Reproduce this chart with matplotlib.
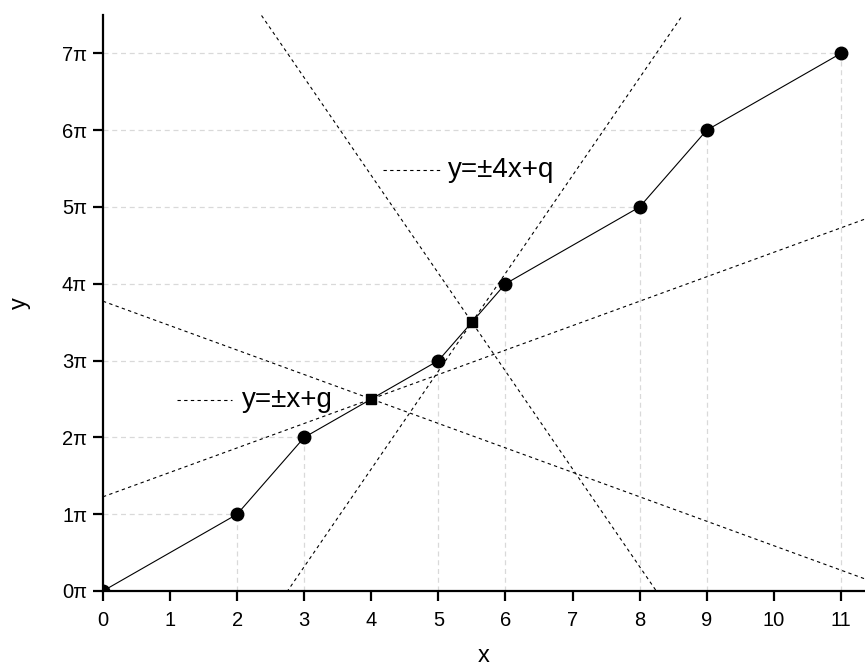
import numpy as np
import matplotlib
matplotlib.use("Agg")
import matplotlib.pyplot as plt

plt.rcParams['font.family'] = ['Liberation Sans', 'DejaVu Sans']

PI = np.pi
# data (y in multiples of pi)
x_pts = [0, 2, 3, 4, 5, 5.5, 6, 8, 9, 11]
y_pts_pi = [0, 1, 2, 2.5, 3, 3.5, 4, 5, 6, 7]
circle_x = [0, 2, 3, 5, 6, 8, 9, 11]
circle_y_pi = [0, 1, 2, 3, 4, 5, 6, 7]
square_x = [4, 5.5]
square_y_pi = [2.5, 3.5]
slopes_a = [1, -1]     # lines through (4, 2.5pi)
slopes_b = [4, -4]     # lines through (5.5, 3.5pi)
yticks_pi = [0, 1, 2, 3, 4, 5, 6, 7]
xticks = list(range(12))

fig = plt.figure(figsize=(8.65, 6.68), dpi=100)
ax = fig.add_axes([103/865, 77/668, 762/865, 576/668])
xmax = 11.36
ymax = 7.5 * PI
ax.set_xlim(0, xmax)
ax.set_ylim(0, ymax)

grid_kw = dict(color='#d9d9d9', lw=0.9, ls=(0, (4, 3)), zorder=1)
for cx, cy in zip(circle_x, circle_y_pi):
    ax.plot([0, cx], [cy*PI, cy*PI], **grid_kw)
    ax.plot([cx, cx], [0, cy*PI], **grid_kw)

xs = np.array([0, xmax])
dash_kw = dict(color='black', lw=0.8, ls=(0, (3, 3)), zorder=2)
for s in slopes_a:
    x0, y0 = square_x[0], square_y_pi[0]*PI
    ax.plot(xs, y0 + s*(xs - x0), **dash_kw)
for s in slopes_b:
    x0, y0 = square_x[1], square_y_pi[1]*PI
    ax.plot(xs, y0 + s*(xs - x0), **dash_kw)

ax.plot(x_pts, [v*PI for v in y_pts_pi], color='black', lw=0.8, zorder=3)
ax.plot(circle_x, [v*PI for v in circle_y_pi], 'o', color='black', ms=9, zorder=4)
ax.plot(square_x, [v*PI for v in square_y_pi], 's', color='black', ms=6.5, zorder=4)

# legend-like annotations
ax.plot([4.17, 5.02], [5.48*PI, 5.48*PI], **dash_kw)
ax.text(5.15, 5.48*PI, 'y=±4x+q', fontsize=20, va='center', ha='left')
ax.plot([1.10, 1.92], [2.485*PI, 2.485*PI], **dash_kw)
ax.text(2.07, 2.485*PI, 'y=±x+g', fontsize=20, va='center', ha='left')

ax.set_xticks(xticks)
ax.set_xticklabels([str(t) for t in xticks])
ax.set_yticks([t*PI for t in yticks_pi])
ax.set_yticklabels([f'{t}π' for t in yticks_pi])
ax.tick_params(axis='both', direction='out', length=7, width=1.6, labelsize=14.5)
ax.tick_params(axis='x', pad=7.5)
ax.tick_params(axis='y', pad=4.5)

for sp in ['top', 'right']:
    ax.spines[sp].set_visible(False)
for sp in ['left', 'bottom']:
    ax.spines[sp].set_linewidth(1.6)

ax.set_xlabel('x', fontsize=17, labelpad=11)
ax.set_ylabel('y', fontsize=17, labelpad=22)

fig.savefig('out.png', dpi=100)
